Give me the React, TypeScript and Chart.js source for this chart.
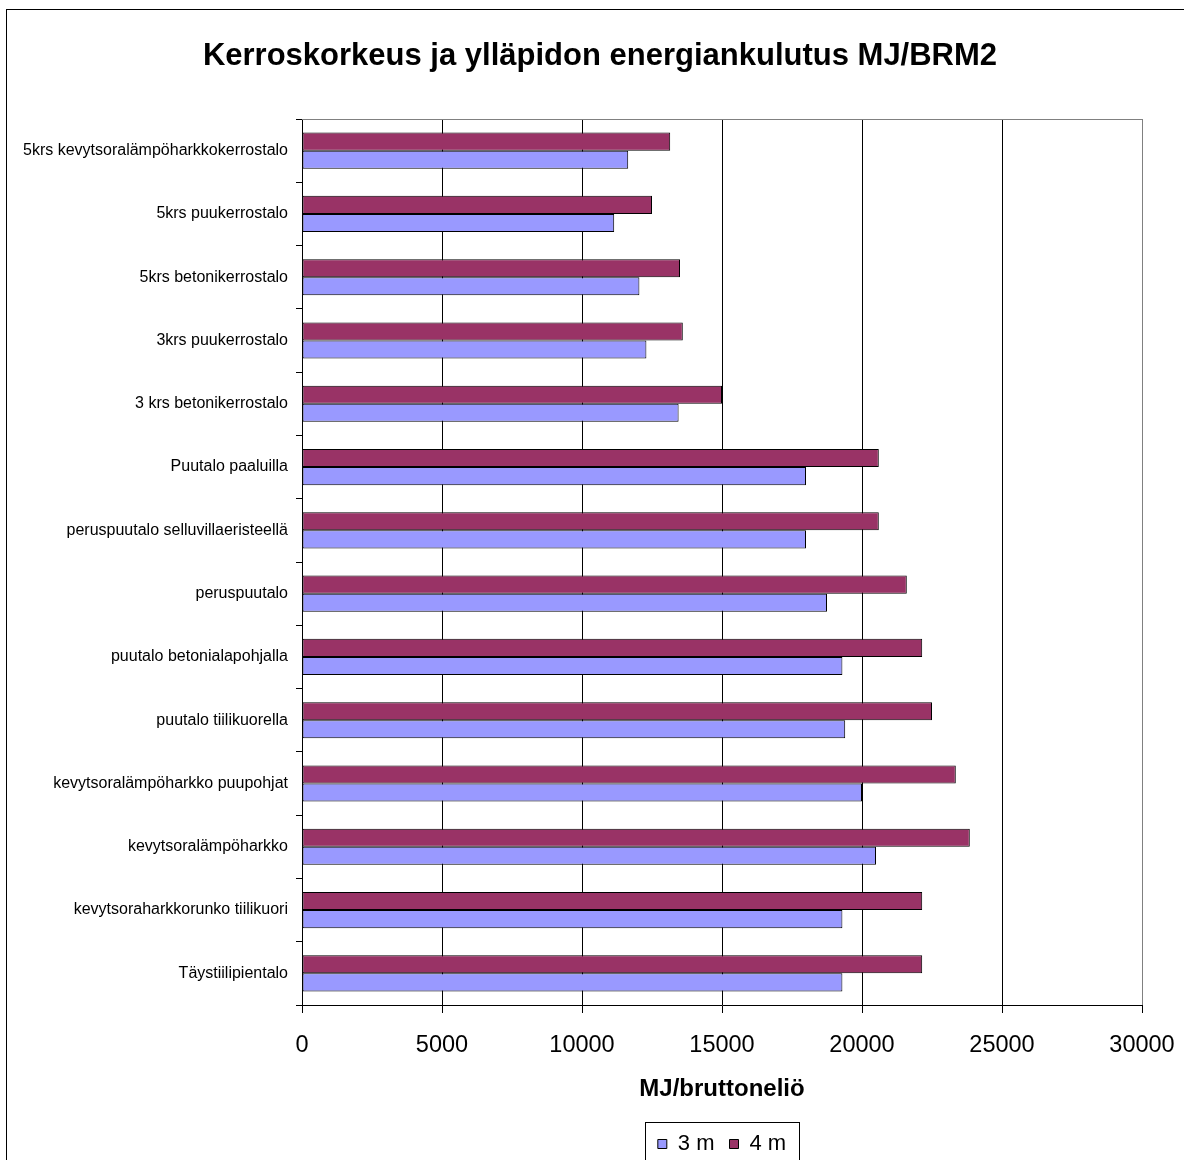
import React, { useEffect, useRef } from 'react';
import { Chart, registerables } from 'chart.js';

Chart.register(...registerables);

// ---- data ----
const CATEGORIES: string[] = [
  '5krs kevytsoralämpöharkkokerrostalo',
  '5krs puukerrostalo',
  '5krs betonikerrostalo',
  '3krs puukerrostalo',
  '3 krs betonikerrostalo',
  'Puutalo paaluilla',
  'peruspuutalo selluvillaeristeellä',
  'peruspuutalo',
  'puutalo betonialapohjalla',
  'puutalo tiilikuorella',
  'kevytsoralämpöharkko puupohjat',
  'kevytsoralämpöharkko',
  'kevytsoraharkkorunko tiilikuori',
  'Täystiilipientalo',
];
const VALUES_3M: number[] = [11650, 11150, 12050, 12300, 13450, 18000, 18000, 18750, 19300, 19400, 20000, 20500, 19300, 19300];
const VALUES_4M: number[] = [13150, 12500, 13500, 13600, 15000, 20600, 20600, 21600, 22150, 22500, 23350, 23850, 22150, 22150];
const SERIES_NAMES: string[] = ['3 m', '4 m'];
const X_MIN = 0;
const X_MAX = 30000;
const X_STEP = 5000;
const TITLE = 'Kerroskorkeus ja ylläpidon energiankulutus MJ/BRM2';
const X_TITLE = 'MJ/bruttoneliö';

// ---- styles ----
const FONT = "'Liberation Sans', Arial, sans-serif";
const COLOR_3M = '#9999FF';
const COLOR_4M = '#993366';
const CANVAS_W = 1190;
const CANVAS_H = 1176;

const framePlugin = {
  id: 'frame',
  beforeDraw(chart: any) {
    const { ctx, width, height } = chart;
    ctx.save();
    ctx.fillStyle = '#ffffff';
    ctx.fillRect(0, 0, width, height);
    ctx.restore();
  },
  afterDraw(chart: any) {
    const { ctx, chartArea, width, height } = chart;
    ctx.save();
    ctx.lineWidth = 1;
    // outer chart border
    ctx.strokeStyle = '#000000';
    ctx.strokeRect(6.5, 9.5, width - 8, height - 11);
    // plot area top border
    ctx.strokeStyle = '#808080';
    const ty = Math.round(chartArea.top) + 0.5;
    ctx.beginPath();
    ctx.moveTo(chartArea.left, ty);
    ctx.lineTo(chartArea.right, ty);
    ctx.stroke();
    // legend frame
    const lg = chart.legend;
    if (lg && lg.lineWidths) {
      const pad = lg.options.labels.padding;
      const lw = lg.lineWidths[0];
      const startX = (lg.left + pad + lg.right - lw) / 2;
      const x0 = Math.round(startX - 13) + 0.5;
      const x1 = Math.round(startX + lw - pad + 13) + 0.5;
      const y0 = Math.round(lg.top + 4) + 0.5;
      ctx.strokeStyle = '#000000';
      ctx.strokeRect(x0, y0, x1 - x0, height + 10 - y0);
    }
    ctx.restore();
  },
};

export default function App() {
  const canvasRef = useRef<HTMLCanvasElement | null>(null);

  useEffect(() => {
    const canvas = canvasRef.current;
    if (!canvas) return;
    const chart = new Chart(canvas, {
      type: 'bar',
      data: {
        labels: CATEGORIES,
        datasets: [
          {
            label: SERIES_NAMES[1],
            data: VALUES_4M,
            backgroundColor: COLOR_4M,
            borderColor: '#000000',
            borderWidth: 1,
            borderSkipped: false,
            categoryPercentage: 2 / 3.5,
            barPercentage: 1,
          },
          {
            label: SERIES_NAMES[0],
            data: VALUES_3M,
            backgroundColor: COLOR_3M,
            borderColor: '#000000',
            borderWidth: 1,
            borderSkipped: false,
            categoryPercentage: 2 / 3.5,
            barPercentage: 1,
          },
        ],
      },
      options: {
        indexAxis: 'y',
        responsive: false,
        animation: false,
        events: [],
        layout: { padding: { left: 10, right: 0, top: 10, bottom: 11 } },
        scales: {
          x: {
            type: 'linear',
            min: X_MIN,
            max: X_MAX,
            ticks: {
              stepSize: X_STEP,
              color: '#000000',
              font: { size: 23.5, family: FONT },
              padding: 18,
              maxRotation: 0,
              autoSkip: false,
              callback: (v: any) => String(v),
            },
            grid: {
              color: (c: any) => (c.tick && c.tick.value === X_MAX ? '#808080' : '#000000'),
              tickColor: '#000000',
              tickLength: 8,
              drawTicks: true,
            },
            border: { display: true, color: '#000000', width: 1 },
            title: {
              display: true,
              text: X_TITLE,
              color: '#000000',
              font: { size: 24, weight: 'bold', family: FONT },
              padding: { top: 0, bottom: 14 },
            },
            afterFit(scale: any) {
              scale.height = 113;
              scale.paddingLeft = 0;
              scale.paddingRight = 48;
            },
          },
          y: {
            type: 'category',
            ticks: {
              color: '#000000',
              font: { size: 16, family: FONT },
              padding: 8,
              autoSkip: false,
            },
            grid: {
              drawOnChartArea: false,
              drawTicks: true,
              tickLength: 6,
              color: '#000000',
              offset: true,
            },
            border: { display: true, color: '#000000', width: 1 },
            afterFit(scale: any) {
              scale.width = 292;
              scale.paddingTop = 0;
              scale.paddingBottom = 0;
            },
          },
        },
        plugins: {
          title: {
            display: true,
            text: TITLE,
            color: '#000000',
            font: { size: 31, weight: 'bold', family: FONT },
            padding: { top: 28, bottom: 43.8 },
          },
          legend: {
            display: true,
            position: 'bottom',
            fullSize: false,
            reverse: true,
            labels: {
              boxWidth: 9,
              boxHeight: 9,
              padding: 15,
              color: '#000000',
              font: { size: 22, family: FONT },
            },
          },
          tooltip: { enabled: false },
        },
      },
      plugins: [framePlugin],
    } as any);
    return () => chart.destroy();
  }, []);

  return (
    <div style={{ position: 'absolute', left: 0, top: 0, width: 1184, height: 1160, overflow: 'hidden', background: '#fff' }}>
      <canvas ref={canvasRef} width={CANVAS_W} height={CANVAS_H} style={{ display: 'block' }} />
    </div>
  );
}
